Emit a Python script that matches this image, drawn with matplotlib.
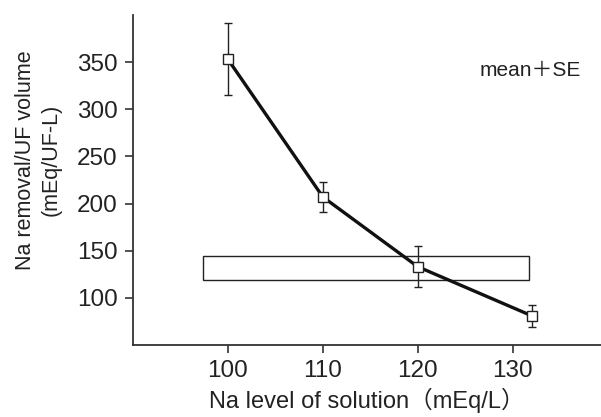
import matplotlib
matplotlib.use('Agg')
import matplotlib.pyplot as plt
from matplotlib.patches import Rectangle

# datos
na_level = [100, 110, 120, 132]
na_removal = [353, 207, 133, 81]
se = [38, 16, 21.5, 11.5]

# banda de referencia (rectangulo)
band_x = [97.4, 131.7]
band_y = [119, 144]

plt.rcParams['font.family'] = ['Liberation Sans', 'Noto Sans CJK JP']

fig = plt.figure(figsize=(6.01, 4.17), dpi=100)
ax = fig.add_axes([0.2213, 0.1727, 0.7787, 0.7913])

ax.add_patch(Rectangle((band_x[0], band_y[0]), band_x[1] - band_x[0], band_y[1] - band_y[0],
                       facecolor='white', edgecolor='#222222', linewidth=1.0, zorder=1))

ax.plot(na_level, na_removal, color='#111111', linewidth=2.4, zorder=2)
ax.errorbar(na_level, na_removal, yerr=se, fmt='none', ecolor='#222222',
            elinewidth=1.0, capsize=3, capthick=1.0, zorder=3)
ax.plot(na_level, na_removal, linestyle='none', marker='s', markersize=7.2,
        markerfacecolor='white', markeredgecolor='#222222', markeredgewidth=1.0, zorder=4)

ax.text(126.5, 341, 'mean＋SE', fontsize=15, va='center', ha='left', color='#222222')

ax.set_xlim(90, 139.3)
ax.set_ylim(50, 400)
ax.set_xticks([100, 110, 120, 130])
ax.set_yticks([100, 150, 200, 250, 300, 350])

for s in ['top', 'right']:
    ax.spines[s].set_visible(False)
for s in ['left', 'bottom']:
    ax.spines[s].set_linewidth(1.3)
    ax.spines[s].set_color('#333333')

ax.tick_params(axis='both', direction='out', length=6, width=1.2, color='#333333',
               labelsize=17.5, pad=5, labelcolor='#222222')

ax.set_xlabel('Na level of solution（mEq/L）', fontsize=17, color='#222222', labelpad=4)
ax.set_ylabel('Na removal/UF volume\n(mEq/UF-L)', fontsize=15.5, color='#222222',
              linespacing=1.3)
ax.yaxis.set_label_coords(-0.152, 0.56)

fig.savefig('out.png', dpi=100)
